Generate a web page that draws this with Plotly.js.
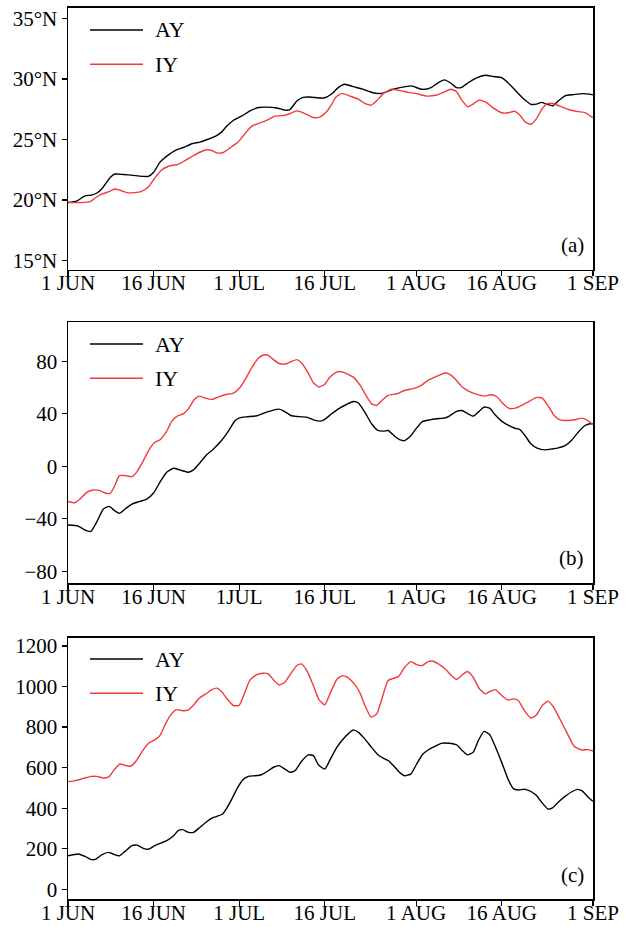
<!DOCTYPE html>
<html>
<head>
<meta charset="utf-8">
<script src="https://cdn.plot.ly/plotly-3.0.1.min.js"></script>
<style>html,body{margin:0;padding:0;background:#fff;}#chart{width:635px;height:927px;}</style>
</head>
<body>
<div id="chart"></div>
<script>
// ---- tick labels (day offsets from 1 JUN) ----
const tickDays = [0, 15, 30, 45, 61, 76, 92];
const tickLabels = ['1 JUN', '16 JUN', '1 JUL', '16 JUL', '1 AUG', '16 AUG', '1 SEP'];
const tickLabelsB = ['1 JUN', '16 JUN', '1JUL', '16 JUL', '1 AUG', '16 AUG', '1 SEP'];
const latTicks = [15, 20, 25, 30, 35];
const latTickText = ['15°N', '20°N', '25°N', '30°N', '35°N'];
const seriesNames = ['AY', 'IY'];
const panelLabels = ['(a)', '(b)', '(c)'];

// ---- panel (a) ----
const aAYday = [0,1.5,3,4.1,5,5.9,7.4,8.2,9.7,11.4,14.1,15,16.1,17.6,19,20.2,21.7,23.1,24.3,25.8,26.9,27.8,29,30.4,31.9,33.4,34.8,36.6,38,38.9,40.1,41.2,42.4,43.9,45,46.2,47.4,48.5,50,51.8,52.9,54.1,55.3,56.7,58.2,60.2,61.7,62.6,63.7,64.9,66,67.1,68.1,69,70.2,71.6,73.1,74.5,76,77.5,78.9,80.1,81.1,82.1,83,83.9,85,85.9,87.1,88.6,90.3,91.8,92];
const aAY = [19.78,19.9,20.33,20.4,20.55,20.9,21.86,22.14,22.1,22.03,21.94,22.28,23.1,23.72,24.14,24.33,24.64,24.78,24.97,25.25,25.6,26.08,26.58,26.92,27.36,27.64,27.67,27.6,27.42,27.47,28.17,28.47,28.5,28.42,28.44,28.75,29.3,29.56,29.36,29.14,28.94,28.8,28.83,29.1,29.28,29.42,29.17,29.14,29.3,29.7,29.92,29.64,29.28,29.3,29.7,30.08,30.3,30.2,30.1,29.5,28.8,28.25,27.9,27.92,28.06,27.9,27.78,28.17,28.6,28.7,28.78,28.7,28.68];
const aIYday = [0,2.1,3.9,4.7,5.9,7.1,8.2,9.1,10.3,11.7,12.9,14.1,15.2,16.4,17.6,19.3,20.5,21.7,23.1,24.3,25.2,26.1,27.2,28.4,29.8,31,32.2,33.6,34.8,36.3,38,38.9,40.1,41.2,43,44.2,45.3,46.2,47,48,49.4,50.9,52,53.1,54.1,55.3,56.7,58.2,59.6,61.1,62.9,64.6,65.8,67.1,68.1,69,70.1,71,72,73.2,74.5,76,77.2,78.2,79.2,80.1,81.1,82.1,83,83.9,85,86.2,87.7,89.4,90.6,92];
const aIY = [19.78,19.78,19.86,20.14,20.47,20.67,20.9,20.8,20.6,20.6,20.7,21.08,21.8,22.47,22.78,22.94,23.25,23.58,23.94,24.14,24.08,23.89,23.92,24.3,24.78,25.47,26.1,26.36,26.58,26.92,27.0,27.14,27.36,27.2,26.8,26.86,27.28,27.9,28.53,28.8,28.58,28.33,27.97,27.83,28.2,28.8,29.14,29.03,28.89,28.78,28.58,28.67,28.89,29.14,28.94,28.25,27.7,27.92,28.25,28.08,27.6,27.2,27.2,27.33,27.0,26.44,26.25,26.72,27.47,27.94,27.97,27.75,27.47,27.3,27.22,26.8];

// ---- panel (b) ----
const bAYday = [0,1.8,3,4,5,6.2,7.2,8.2,9,10,11.2,12.6,13.8,15,16.1,17.3,18.5,19.6,21.1,22,23.1,24.3,25.5,26.9,28.1,29.3,30.1,31.3,33.1,34.8,36.9,37.7,39.2,40.1,41.8,43,44.2,45,46.2,47.4,48.8,50,50.9,52,53.2,54.3,55.3,56.1,57.3,58.2,59,60.1,61.1,62.1,63.4,64.6,66.1,66.9,68.1,69,69.9,71,71.9,72.9,73.9,74.8,76,77.2,78.3,79.2,80.1,81.1,82.2,83.6,84.8,85.9,87.1,88.3,89.4,90.6,91.5,92];
const bAY = [-44.8,-45.6,-48.7,-49.7,-42.8,-32.6,-30.6,-33.9,-35.9,-32.6,-28.8,-26.8,-25,-20.4,-12.2,-4.6,-1.5,-2.8,-4.6,-2.8,2.5,8.7,13.2,19.6,26.8,34.9,36.9,37.7,38.5,41.3,43.6,42.5,38.5,38,37.5,35.4,34.4,35.8,40,43.8,47.1,49.4,48.2,41.3,32.4,27.3,26.8,27.3,22.7,20.1,19.6,23.4,29.3,34.1,35.4,36.2,36.9,38.5,41.8,42.5,40.5,38.2,41.3,45.1,44.3,39.5,34.4,31.1,29,28,23.4,17.1,13.8,12.5,13.2,14,15.8,20.1,26,31.1,32.4,32.4];
const bIYday = [0,1.2,2.1,3.3,4.4,5.6,6.5,7.4,8.2,9,10,11.2,12.1,13.2,14.3,15.2,16.1,17.2,18.2,19.2,20.2,21.1,22.1,23,24,25.2,26.3,27.5,29,30.1,31.3,32.2,33.4,34.3,35.1,36,37.1,38.3,39.2,40.1,40.9,42.1,43,44,45,45.9,47.1,48.2,50,51.2,52.4,53.2,54.1,55,56.1,57.6,59,60.8,61.9,63.1,64.6,66.1,66.9,67.8,69,70.2,71.6,73.1,74.1,75.1,76,77.2,78.2,79.5,80.9,82.1,83.1,84.1,85.2,86.2,87.7,89.1,90,90.9,92];
const bIY = [-26.8,-27.8,-25,-19.9,-18.1,-18.6,-20.4,-20.6,-14.8,-7.1,-7.1,-7.9,-4.1,4.3,13.2,18.3,20.1,26,34.4,38.5,40,43.8,50.7,53.5,52,51,52.7,54.5,55.8,59.9,68,75.2,82.5,84.8,84.6,81.3,78.2,78.2,80,81.3,79,71.1,63.7,60.4,62.5,68,72,71.8,68,61.7,52.7,47.6,46.4,50.2,54,55.3,57.8,59.6,61.7,65.5,68.5,71.1,70.1,66.8,60.9,57.3,54.8,53.5,54.5,53.2,48.9,44.3,44.1,46.4,49.7,52.5,52,46.4,38.7,35.4,34.9,35.7,36.7,35.4,31.8];

// ---- panel (c) ----
const cAYday = [0,1.8,3,4.1,4.9,5.9,7.1,7.9,9,10,11.2,12.1,13.2,14.1,15.2,16.1,17.3,18.5,19.3,20.1,21.1,22,23.1,24.3,25.2,26.1,27.1,27.8,28.7,29.6,30.6,31.6,32.8,33.9,35.1,36,37,38,38.9,39.8,40.9,42.1,43,43.9,45,45.9,47.1,48.5,50,50.9,52,53.2,54.3,55.3,56.1,57.3,58.2,59,60.1,61.1,62.1,63.1,64.3,65.4,66.7,68.1,69.1,70,71,71.9,72.9,73.9,74.8,76,77.1,78.1,78.9,80.1,81.2,82.1,83,84.1,84.9,85.9,87.1,88.3,89.3,90.1,91.2,92];
const cAY = [165,174,162,146,149,170,182,174,165,187,215,218,202,198,215,226,240,264,289,294,281,281,305,333,351,360,371,399,445,495,539,557,560,565,585,602,610,593,577,585,630,663,659,613,593,638,700,750,786,774,742,700,664,646,635,602,574,560,569,618,664,687,705,720,720,712,684,663,676,733,779,763,709,626,544,495,490,493,481,462,429,396,401,429,458,481,493,485,453,434];
const cIYday = [0,1.2,2.7,4.1,5,6.2,7.2,8.2,9.1,10.2,11,12,13.1,14.1,15.2,16.1,17,18,19,20.1,21.1,22,23,24.3,25.2,26.1,26.9,27.8,29,30,31,31.9,33.1,34.2,35.1,36.1,37,38,38.9,40.1,40.9,41.9,43,44,45,45.9,47.1,48.1,49.1,50.3,51.2,52,53.1,54.1,55,56.1,57.9,59,60.1,61.1,62.1,63.1,64,64.9,66.1,67.2,68.1,69.1,70,71,72,73.1,73.9,74.9,76,77.1,78.1,78.9,80,81.1,82.1,83.1,84.1,85.1,86.2,87.4,88.7,90,91.2,92];
const cIY = [531,536,547,557,557,549,556,593,618,610,607,635,684,720,737,758,811,860,886,881,885,909,942,967,985,992,975,942,906,908,972,1033,1059,1066,1063,1030,1008,1021,1058,1104,1112,1076,1005,934,910,964,1035,1054,1043,1008,967,909,849,865,939,1030,1049,1095,1123,1108,1104,1123,1125,1112,1087,1054,1035,1058,1074,1046,993,964,975,985,956,934,939,931,881,845,860,906,928,898,840,774,705,687,689,682];

// ---- styling ----
const W = 635, H = 927, L = 68, R = 42;
const colors = ['#000000', '#f23a3a'];
const FONT = 'Liberation Serif';
const px2y = p => 1 - p / H;
const px2x = p => (p - L) / (W - L - R);

function trace(x, y, i, ax) {
  return {x: x, y: y, xaxis: 'x' + ax, yaxis: 'y' + ax, type: 'scatter', mode: 'lines',
          name: seriesNames[i], showlegend: false, line: {color: colors[i], width: 1.4, shape: 'spline', smoothing: 0.5}};
}

const data = [
  trace(aAYday, aAY, 0, ''), trace(aIYday, aIY, 1, ''),
  trace(bAYday, bAY, 0, '2'), trace(bIYday, bIY, 1, '2'),
  trace(cAYday, cAY, 0, '3'), trace(cIYday, cIY, 1, '3')
];

const tickFont = {family: FONT, size: 21, color: '#000'};
function xax(anchor, labels) {
  return {anchor: anchor, range: [0, 92], tickmode: 'array', tickvals: tickDays, ticktext: labels,
          showline: true, mirror: true, linecolor: '#000', linewidth: 1.5, ticks: 'outside', ticklen: 5,
          tickwidth: 1.2, tickcolor: '#000', showgrid: false, zeroline: false, tickfont: tickFont,
          ticklabelstandoff: -11, fixedrange: true};
}
function yax(anchor, domain, range, extra) {
  return Object.assign({anchor: anchor, domain: domain, range: range, showline: true, mirror: true, linecolor: '#000',
          linewidth: 1.5, ticks: 'outside', ticklen: 5, tickwidth: 1.2, tickcolor: '#000', showgrid: false,
          zeroline: false, tickfont: tickFont, fixedrange: true}, extra);
}

const panelTops = [7.5, 322, 637.7];
const panelBots = [269.5, 583, 899];
const legendY = [[30, 64.3], [344, 378.3], [659, 693.3]];
const labelY = [245, 558, 875];

const shapes = [], annotations = [];
for (let p = 0; p < 3; p++) {
  for (let i = 0; i < 2; i++) {
    const yy = px2y(legendY[p][i]);
    shapes.push({type: 'line', xref: 'paper', yref: 'paper', x0: px2x(90), x1: px2x(143), y0: yy, y1: yy,
                 line: {color: colors[i], width: 1.4}});
    annotations.push({xref: 'paper', yref: 'paper', x: px2x(153), y: yy, xanchor: 'left', yanchor: 'middle',
                      text: seriesNames[i], showarrow: false, font: {family: FONT, size: 22, color: '#000'}});
  }
  annotations.push({xref: 'paper', yref: 'paper', x: px2x(586), y: px2y(labelY[p]), xanchor: 'right', yanchor: 'middle',
                    text: panelLabels[p], showarrow: false, font: {family: FONT, size: 21, color: '#000'}});
}

const layout = {
  width: W, height: H, margin: {l: L, r: R, t: 0, b: 0}, showlegend: false,
  paper_bgcolor: '#fff', plot_bgcolor: '#fff',
  xaxis: xax('y', tickLabels),
  yaxis: yax('x', [px2y(panelBots[0]), px2y(panelTops[0])], [14.25, 35.9], {tickmode: 'array', tickvals: latTicks, ticktext: latTickText}),
  xaxis2: xax('y2', tickLabelsB),
  yaxis2: yax('x2', [px2y(panelBots[1]), px2y(panelTops[1])], [-89, 110], {tickmode: 'array', tickvals: [-80, -40, 0, 40, 80]}),
  xaxis3: xax('y3', tickLabels),
  yaxis3: yax('x3', [px2y(panelBots[2]), px2y(panelTops[2])], [-48, 1241], {tickmode: 'array', tickvals: [0, 200, 400, 600, 800, 1000, 1200], tickformat: 'd'}),
  shapes: shapes, annotations: annotations
};

Plotly.newPlot('chart', data, layout, {staticPlot: true, displayModeBar: false});
</script>
</body>
</html>
